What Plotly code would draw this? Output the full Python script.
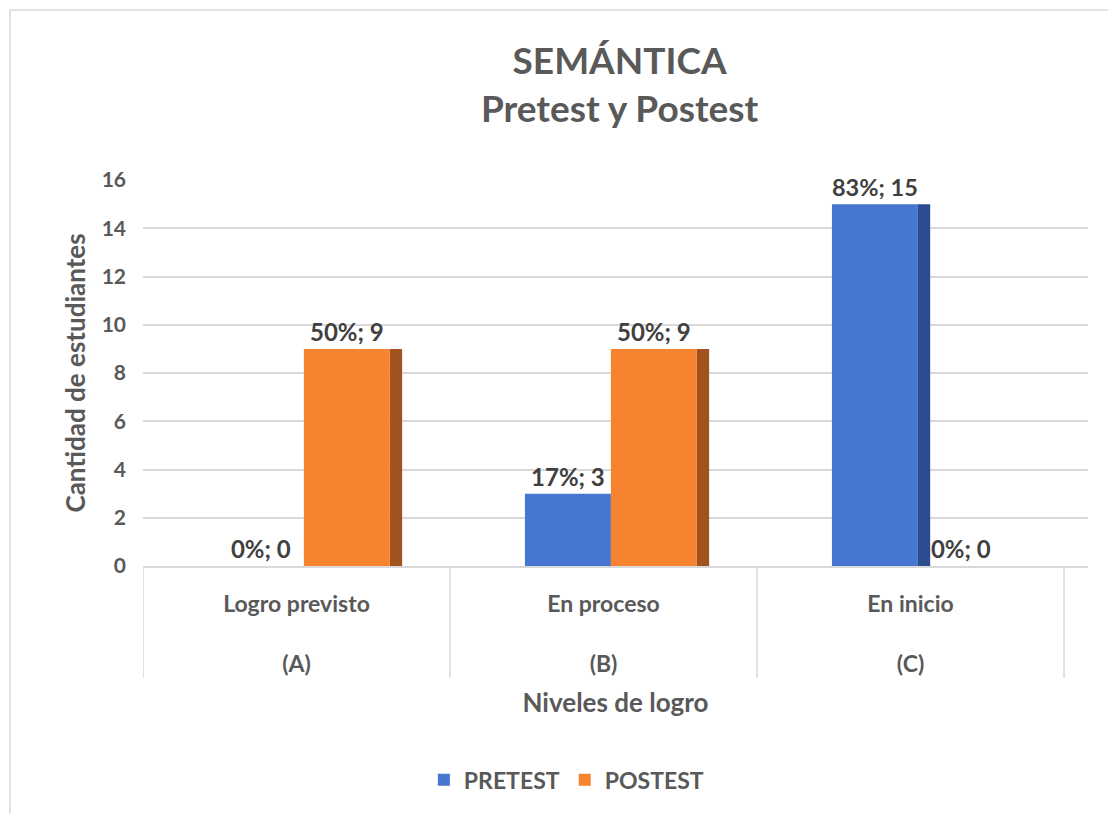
import plotly.graph_objects as go

# data
categories = ["Logro previsto<br><br>(A)", "En proceso<br><br>(B)", "En inicio<br><br>(C)"]
pretest = [0, 3, 15]
postest = [9, 9, 0]
pretest_pct = [0, 17, 83]
postest_pct = [50, 50, 0]

FONT = "Lato"
GRAY = "#595959"
DARK = "#404040"

fig = go.Figure()

# darker side faces drawn first so the fronts sit on top of them
fig.add_trace(go.Bar(
    x=categories, y=pretest, width=0.04, offset=0.024,
    marker=dict(color="#2c4c8f", line=dict(width=0)),
    showlegend=False, hoverinfo="skip",
))
fig.add_trace(go.Bar(
    x=categories, y=pretest, width=0.28, offset=-0.256,
    marker=dict(color="#4676cf", line=dict(width=0)),
    name="<b>PRETEST</b>",
    text=[f"<b>{p}%; {v}</b>" for p, v in zip(pretest_pct, pretest)],
    textposition="outside", cliponaxis=False,
    textfont=dict(family=FONT, size=24, color=DARK),
))
fig.add_trace(go.Bar(
    x=categories, y=postest, width=0.04, offset=0.304,
    marker=dict(color="#a0521f", line=dict(width=0)),
    showlegend=False, hoverinfo="skip",
))
fig.add_trace(go.Bar(
    x=categories, y=postest, width=0.28, offset=0.024,
    marker=dict(color="#f5832f", line=dict(width=0)),
    name="<b>POSTEST</b>",
    text=[f"<b>{p}%; {v}</b>" for p, v in zip(postest_pct, postest)],
    textposition="outside", cliponaxis=False,
    textfont=dict(family=FONT, size=24, color=DARK),
))

# category separators below the axis and the chart frame
shapes = [
    dict(type="line", xref="x", yref="paper", x0=i - 0.5, x1=i - 0.5, y0=0, y1=-0.29,
         line=dict(color="#d9d9d9", width=1.5))
    for i in range(len(categories) + 1)
]
shapes.append(dict(type="rect", xref="paper", yref="paper", x0=-0.1407, x1=1.05, y0=-0.7, y1=1.4404,
                   line=dict(color="#d9d9d9", width=1.5), layer="below"))

fig.update_layout(
    width=1108, height=806,
    barmode="overlay",
    paper_bgcolor="white", plot_bgcolor="white",
    margin=dict(l=135, r=28, t=172, b=248),
    font=dict(family=FONT, color=GRAY),
    title=dict(
        text="<b>SEMÁNTICA<br>Pretest y Postest</b>",
        x=0.552, xanchor="center", xref="container",
        y=0.918, yanchor="middle", yref="container",
        font=dict(family=FONT, size=37, color=GRAY),
    ),
    xaxis=dict(
        range=[-0.5, 2.578],
        showgrid=False, showline=True, linecolor="#d9d9d9", linewidth=1.5,
        ticks="", ticklabelstandoff=17,
        tickprefix="<b>", ticksuffix="</b>",
        tickfont=dict(family=FONT, size=23, color=GRAY),
        title=dict(text="<b>Niveles de logro</b>", standoff=18,
                   font=dict(family=FONT, size=26, color=GRAY)),
    ),
    yaxis=dict(
        range=[0, 16], dtick=2,
        showgrid=True, gridcolor="#d9d9d9", gridwidth=1.5,
        zeroline=False, showline=False,
        ticks="", ticklabelstandoff=16,
        tickprefix="<b>", ticksuffix="</b>",
        tickfont=dict(family=FONT, size=21, color=GRAY),
        title=dict(text="<b>Cantidad de estudiantes</b>", standoff=8,
                   font=dict(family=FONT, size=26, color=GRAY)),
    ),
    legend=dict(
        orientation="h", x=0.448, xanchor="center", y=-0.554, yanchor="middle",
        font=dict(family=FONT, size=23, color=GRAY),
        itemwidth=30, traceorder="normal",
    ),
    shapes=shapes,
)

fig.write_html("out.html")
